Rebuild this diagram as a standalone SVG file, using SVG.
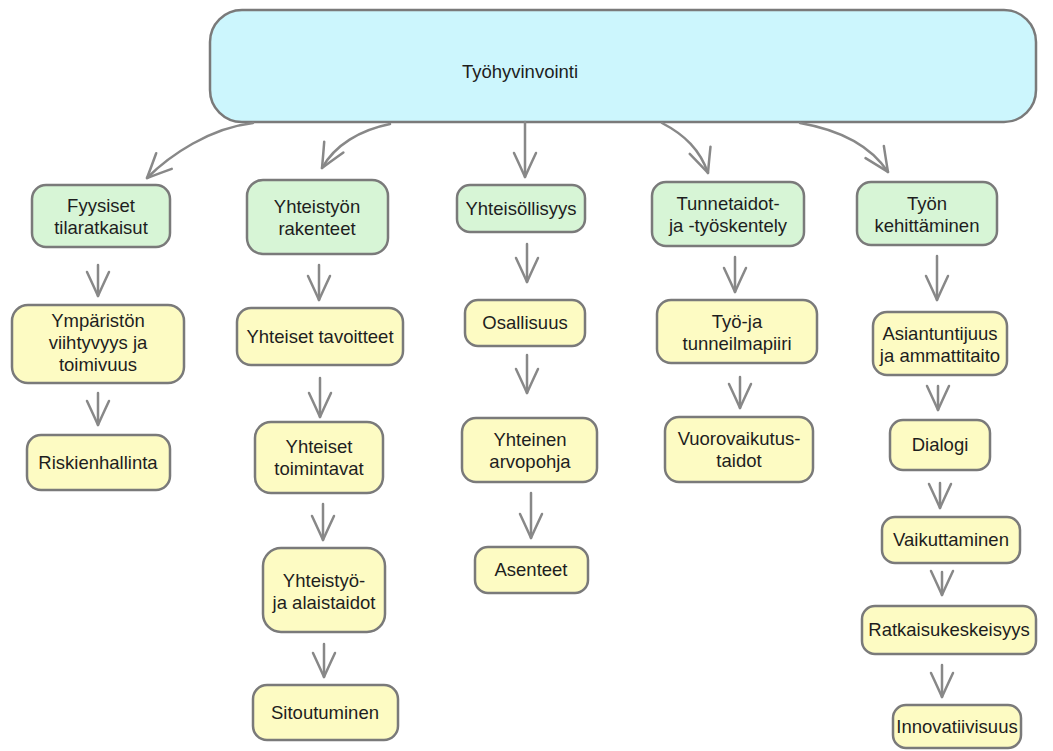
<svg xmlns="http://www.w3.org/2000/svg" width="1053" height="751" viewBox="0 0 1053 751">
<style>
.top{fill:#ccf6fd;stroke:#7a7a7a;stroke-width:2.5}
.g{fill:#d7f5d6;stroke:#7a7a7a;stroke-width:2.5}
.y{fill:#fdfbc3;stroke:#7a7a7a;stroke-width:2.5}
text{font-family:"Liberation Sans",Arial,sans-serif;font-size:18.5px;fill:#1e1e1e;text-anchor:middle}
.c path{fill:none;stroke:#888;stroke-width:2.5;stroke-linecap:round;marker-end:url(#ah)}
</style>
<defs>
<marker id="ah" markerUnits="userSpaceOnUse" viewBox="-28 -15 32 30" markerWidth="32" markerHeight="30" refX="0" refY="0" orient="auto">
<path d="M -24 -11 Q -9 -4 0 0 Q -9 4 -24 11" fill="none" stroke="#888" stroke-width="2.5" stroke-linecap="round" stroke-linejoin="round"/>
</marker>
</defs>
<rect width="1053" height="751" fill="#fff"/>
<g id="n-tyohyvinvointi"><rect class="top" x="210" y="10" width="826" height="112" rx="32"/><text x="520" y="78">Työhyvinvointi</text></g>

<g id="n-fyysiset"><rect class="g" x="32" y="185" width="138" height="62" rx="14"/><text x="101" y="212">Fyysiset</text><text x="101" y="234">tilaratkaisut</text></g>
<g id="n-yhteistyon"><rect class="g" x="247" y="180" width="141" height="74" rx="16"/><text x="317" y="213">Yhteistyön</text><text x="317" y="235">rakenteet</text></g>
<g id="n-yhteisollisyys"><rect class="g" x="457" y="185" width="128" height="47" rx="13"/><text x="521" y="215">Yhteisöllisyys</text></g>
<g id="n-tunnetaidot"><rect class="g" x="652" y="182" width="152" height="64" rx="14"/><text x="728" y="210">Tunnetaidot-</text><text x="728" y="232">ja -työskentely</text></g>
<g id="n-tyonkehittaminen"><rect class="g" x="857" y="182" width="140" height="63" rx="14"/><text x="927" y="210">Työn</text><text x="927" y="232">kehittäminen</text></g>

<g id="n-ymparisto"><rect class="y" x="12" y="305" width="172" height="78" rx="16"/><text x="98" y="327">Ympäristön</text><text x="98" y="349">viihtyvyys ja</text><text x="98" y="371">toimivuus</text></g>
<g id="n-riskienhallinta"><rect class="y" x="27" y="435" width="143" height="55" rx="14"/><text x="98" y="469">Riskienhallinta</text></g>

<g id="n-tavoitteet"><rect class="y" x="237" y="308" width="166" height="57" rx="14"/><text x="320" y="343">Yhteiset tavoitteet</text></g>
<g id="n-toimintavat"><rect class="y" x="255" y="422" width="128" height="71" rx="16"/><text x="319" y="453">Yhteiset</text><text x="319" y="475">toimintavat</text></g>
<g id="n-alaistaidot"><rect class="y" x="263" y="548" width="122" height="84" rx="18"/><text x="324" y="587">Yhteistyö-</text><text x="324" y="609">ja alaistaidot</text></g>
<g id="n-sitoutuminen"><rect class="y" x="253" y="685" width="145" height="55" rx="14"/><text x="325" y="719">Sitoutuminen</text></g>

<g id="n-osallisuus"><rect class="y" x="465" y="300" width="120" height="46" rx="13"/><text x="525" y="329">Osallisuus</text></g>
<g id="n-arvopohja"><rect class="y" x="462" y="418" width="135" height="64" rx="14"/><text x="530" y="446">Yhteinen</text><text x="530" y="468">arvopohja</text></g>
<g id="n-asenteet"><rect class="y" x="475" y="547" width="113" height="46" rx="13"/><text x="531" y="576">Asenteet</text></g>

<g id="n-ilmapiiri"><rect class="y" x="657" y="300" width="160" height="63" rx="14"/><text x="737" y="328">Työ-ja</text><text x="737" y="350">tunneilmapiiri</text></g>
<g id="n-vuorovaikutus"><rect class="y" x="665" y="417" width="148" height="65" rx="14"/><text x="739" y="445">Vuorovaikutus-</text><text x="739" y="467">taidot</text></g>

<g id="n-asiantuntijuus"><rect class="y" x="873" y="312" width="134" height="63" rx="14"/><text x="940" y="340">Asiantuntijuus</text><text x="940" y="362">ja ammattitaito</text></g>
<g id="n-dialogi"><rect class="y" x="890" y="420" width="100" height="50" rx="13"/><text x="940" y="451">Dialogi</text></g>
<g id="n-vaikuttaminen"><rect class="y" x="882" y="517" width="138" height="46" rx="13"/><text x="951" y="546">Vaikuttaminen</text></g>
<g id="n-ratkaisu"><rect class="y" x="862" y="606" width="174" height="48" rx="13"/><text x="949" y="636">Ratkaisukeskeisyys</text></g>
<g id="n-innovatiivisuus"><rect class="y" x="893" y="705" width="128" height="43" rx="13"/><text x="957" y="733">Innovatiivisuus</text></g>

<g id="connectors" class="c">
<path d="M 253 123 C 210 128 170 155 147 178"/>
<path d="M 390 124 C 360 130 335 145 322 168"/>
<path d="M 525 122 L 525 177"/>
<path d="M 662 123 C 685 135 700 150 708 173"/>
<path d="M 800 123 C 840 130 870 145 888 172"/>
<path d="M 98 265 L 98 296"/>
<path d="M 98 393 L 98 425"/>
<path d="M 319 265 L 319 300"/>
<path d="M 320 378 L 320 417"/>
<path d="M 323 504 L 323 540"/>
<path d="M 324 644 L 324 677"/>
<path d="M 527 244 L 527 282"/>
<path d="M 527 355 L 527 393"/>
<path d="M 531 493 L 531 538"/>
<path d="M 735 257 L 735 292"/>
<path d="M 740 377 L 740 408"/>
<path d="M 937 256 L 937 300"/>
<path d="M 938 386 L 938 410"/>
<path d="M 940 483 L 940 508"/>
<path d="M 942 572 L 942 595"/>
<path d="M 942 665 L 942 697"/>
</g>
</svg>
